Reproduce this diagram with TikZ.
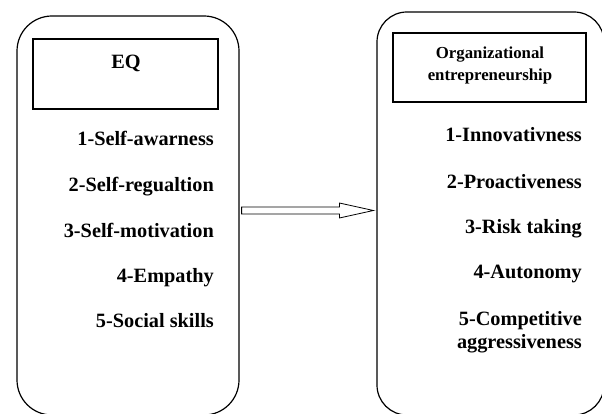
\documentclass[tikz,border=0pt]{standalone}
\usepackage{fontspec}
\setmainfont{Liberation Serif}
\usetikzlibrary{positioning,calc}
\begin{document}
\begin{tikzpicture}[x=1pt,y=-1pt,
    frame/.style={rectangle,draw,line width=1.2pt,inner sep=0pt},
    headbox/.style={rectangle,draw,line width=1.1pt,inner sep=0pt},
    item/.style={anchor=base east,align=right,inner sep=0pt,font=\bfseries\fontsize{20.3}{23}\selectfont}]
    \useasboundingbox (0,0) rectangle (602,414);
    \node[frame,rounded corners=35pt,minimum width=222pt,minimum height=399pt] (eq) at (128,215.5) {};
    \node[frame,rounded corners=30pt,minimum width=227pt,minimum height=403pt] (org) at (490.5,213.5) {};
    \node[headbox,minimum width=185pt,minimum height=70pt] (eqhead) at (125.5,74) {};
    \node[headbox,minimum width=193pt,minimum height=69pt] (orghead) at (489.5,67.5) {};
    \node[anchor=base,inner sep=0pt,font=\bfseries\fontsize{20.3}{24}\selectfont] (eqtitle) at (126,68.3) {EQ};
    \node[align=center,inner sep=0pt,font=\bfseries\fontsize{16.8}{22}\selectfont] (orgtitle) at (490,65.5) {Organizational\\entrepreneurship};
    \node[item] (e1) at (214,146) {1-Self-awarness};
    \node[item] (e2) at (214,191.5) {2-Self-regualtion};
    \node[item] (e3) at (214,237) {3-Self-motivation};
    \node[item] (e4) at (214,282.5) {4-Empathy};
    \node[item] (e5) at (214,327) {5-Social skills};
    \node[item] (o1) at (582,141.7) {1-Innovativness};
    \node[item] (o2) at (582,188.3) {2-Proactiveness};
    \node[item] (o3) at (582,233.3) {3-Risk taking};
    \node[item] (o4) at (582,278.3) {4-Autonomy};
    \node[item] (o5) at (582,348) {5-Competitive\\aggressiveness};
    \coordinate (from) at ($(eq.east)+(2,-5)$);
    \coordinate (to) at ($(org.west)+(-3,-3)$);
    \draw[line width=0.8pt] ($(from)+(0,-3.5)$) -- ($(to)+(-34,-3.5)$) -- ($(to)+(-34,-7.5)$) -- (to)
      -- ($(to)+(-34,7.5)$) -- ($(to)+(-34,3.5)$) -- ($(from)+(0,3.5)$) -- cycle;
\end{tikzpicture}
\end{document}
